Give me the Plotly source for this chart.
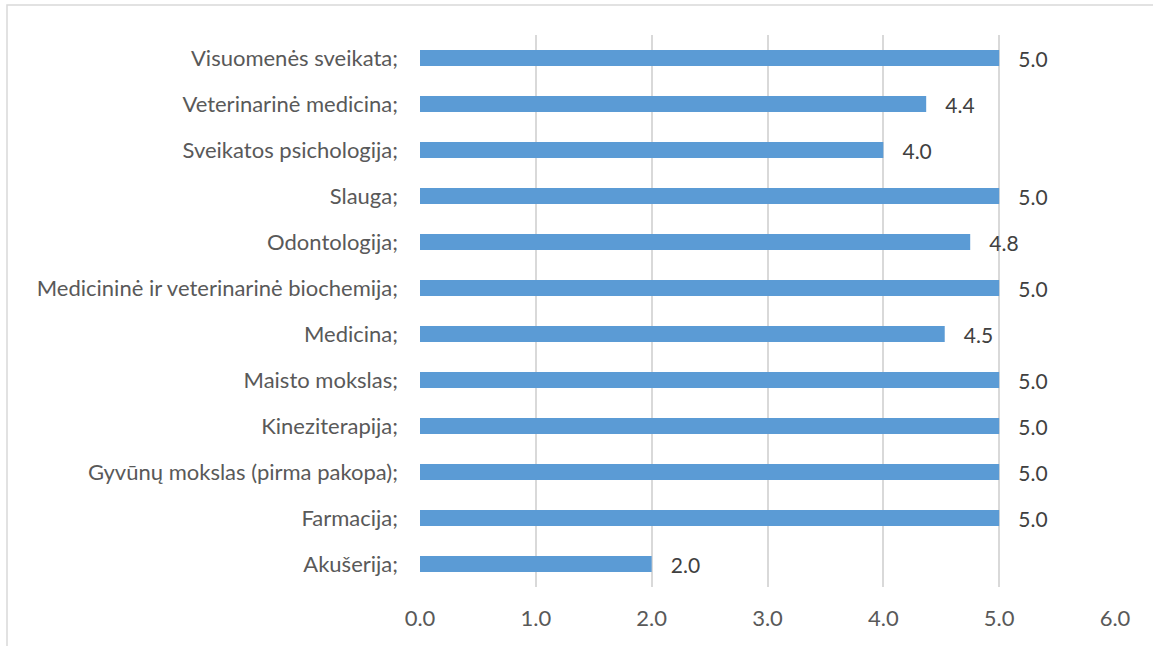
import plotly.graph_objects as go

categories = [
    "Akušerija;",
    "Farmacija;",
    "Gyvūnų mokslas (pirma pakopa);",
    "Kineziterapija;",
    "Maisto mokslas;",
    "Medicina;",
    "Medicininė ir veterinarinė biochemija;",
    "Odontologija;",
    "Slauga;",
    "Sveikatos psichologija;",
    "Veterinarinė medicina;",
    "Visuomenės sveikata;",
]
values = [2.0, 5.0, 5.0, 5.0, 5.0, 4.53, 5.0, 4.75, 5.0, 4.0, 4.37, 5.0]
x_ticks = [0, 1, 2, 3, 4, 5, 6]
x_tick_labels = ["0.0", "1.0", "2.0", "3.0", "4.0", "5.0", "6.0"]

FONT = "Lato, Open Sans, sans-serif"
PLOT_W = 695
PLOT_H = 552

fig = go.Figure()
fig.add_trace(
    go.Bar(
        y=categories,
        x=values,
        orientation="h",
        marker={"color": "#5B9BD5", "line": {"width": 0}},
        width=0.35,
        texttemplate="\u00a0\u00a0\u00a0%{x:.1f}",
        textposition="outside",
        constraintext="none",
        textfont={"family": FONT, "size": 21, "color": "#404040"},
        cliponaxis=False,
        hoverinfo="skip",
    )
)

fig.update_layout(
    width=1153,
    height=646,
    margin={"l": 420, "r": 38, "t": 35, "b": 59},
    paper_bgcolor="white",
    plot_bgcolor="white",
    showlegend=False,
    font={"family": FONT, "size": 22, "color": "#595959"},
    shapes=[
        # chart frame: only the left and top edges fall inside the window
        {
            "type": "rect",
            "xref": "paper",
            "yref": "paper",
            "x0": -413 / PLOT_W,
            "x1": 760 / PLOT_W,
            "y0": -80 / PLOT_H,
            "y1": 1 + 30 / PLOT_H,
            "line": {"color": "#D9D9D9", "width": 1.5},
        }
    ],
)

fig.update_xaxes(
    range=[0, 6],
    tickvals=x_ticks,
    ticktext=x_tick_labels,
    showgrid=True,
    gridcolor="#D9D9D9",
    gridwidth=1.5,
    zeroline=False,
    showline=False,
    ticks="",
    ticklabelstandoff=16,
)
fig.update_yaxes(
    showgrid=False,
    zeroline=False,
    showline=False,
    ticks="",
    ticklabelstandoff=21,
)

# drop the page's default body margin so the figure sits at the window origin
fig.write_html(
    "out.html",
    config={"displayModeBar": False},
    post_script="document.body.style.margin = '0';",
)
